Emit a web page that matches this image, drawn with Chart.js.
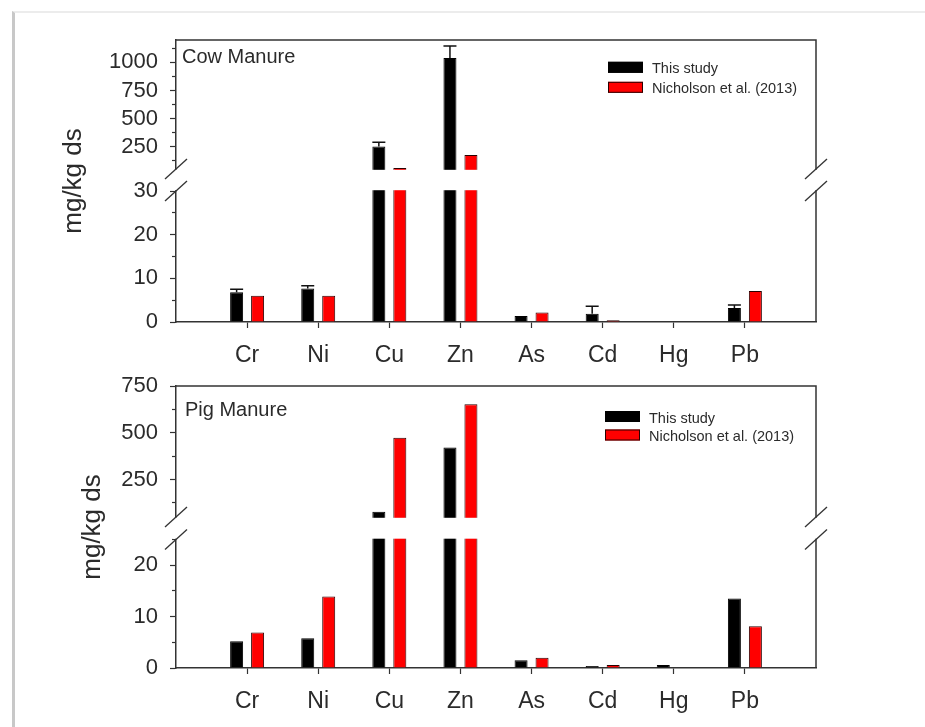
<!DOCTYPE html>
<html><head><meta charset="utf-8">
<script src="https://cdn.jsdelivr.net/npm/chart.js@4.4.1/dist/chart.umd.min.js"></script>
<style>
html,body{margin:0;padding:0;background:#fff;}
#wrap{position:relative;width:925px;height:727px;overflow:hidden;background:#fff;}
#frame{position:absolute;left:12px;top:11px;width:925px;height:730px;border-left:3px solid #c8c8c8;border-top:2px solid #ececec;}
canvas{position:absolute;left:0;}
#cowCanvas{top:0;}
#pigCanvas{top:340px;}
</style></head><body>
<div id="wrap"><div id="frame"></div>
<canvas id="cowCanvas" width="925" height="370"></canvas>
<canvas id="pigCanvas" width="925" height="387"></canvas>
</div>
<script>
// ---------------- data ----------------
const categories = ['Cr', 'Ni', 'Cu', 'Zn', 'As', 'Cd', 'Hg', 'Pb'];
const seriesNames = ['This study', 'Nicholson et al. (2013)'];

const cowThisStudy    = [6.8, 7.7, 250, 1040, 1.4, 1.9, 0, 3.2];
const cowThisStudyErr = [0.7, 0.6, 38, 106, 0, 1.7, 0, 0.7];
const cowNicholson    = [6.0, 6.0, 58, 175, 2.2, 0.4, 0, 7.1];

const pigThisStudy    = [5.2, 5.8, 78, 422, 1.5, 0.4, 0.6, 13.5];
const pigNicholson    = [6.9, 13.9, 474, 652, 2.0, 0.6, 0, 8.1];

const cowMajorTicks = [0, 10, 20, 30, 250, 500, 750, 1000];
const cowMinorTicks = [5, 15, 25, 125, 375, 625, 875, 1125];
const pigMajorTicks = [0, 10, 20, 250, 500, 750];
const pigMinorTicks = [5, 15, 25, 125, 375, 625];

const cowAxisRange = [0, 30, 50, 1200];   // min, break start, break end, max
const pigAxisRange = [0, 25, 50, 750];

const FONT = '"Liberation Sans", Arial, Helvetica, sans-serif';
Chart.defaults.font.family = FONT;

// ---------------- broken linear scale ----------------
const LinearScale = Chart.LinearScale || Chart.registry.getScale('linear');
class BrokenLinearScale extends LinearScale {
  _brokenDecimal(v) {
    const o = this.options;
    const lo = o.breakLower, hi = o.breakUpper, lf = o.lowerFraction, gf = o.gapFraction;
    const uf = 1 - lf - gf;
    const min = this.min, max = this.max;
    if (v <= lo) return (v - min) / (lo - min) * lf;
    if (v >= hi) return lf + gf + (v - hi) / (max - hi) * uf;
    return lf + (v - lo) / (hi - lo) * gf;
  }
  getPixelForValue(value) {
    if (value === null || value === undefined || isNaN(value)) return NaN;
    return this.getPixelForDecimal(this._brokenDecimal(+value));
  }
  getValueForPixel(pixel) {
    const d = this.getDecimalForPixel(pixel);
    const o = this.options;
    const lo = o.breakLower, hi = o.breakUpper, lf = o.lowerFraction, gf = o.gapFraction;
    const uf = 1 - lf - gf;
    if (d <= lf) return this.min + d / lf * (lo - this.min);
    if (d >= lf + gf) return hi + (d - lf - gf) / uf * (this.max - hi);
    return lo + (d - lf) / gf * (hi - lo);
  }
  _computeGridLineItems(chartArea) {
    const items = super._computeGridLineItems(chartArea);
    const minorLen = this.options.minorTickLength || 3;
    if (items && items.length === this.ticks.length) {
      items.forEach((it, i) => {
        if (this.ticks[i] && this.ticks[i].minor) it.tx1 = it.tx2 - minorLen;
      });
    }
    return items;
  }
}
BrokenLinearScale.id = 'brokenLinear';
BrokenLinearScale.defaults = {};
Chart.register(BrokenLinearScale);

// ---------------- decoration plugin (frame, break marks, legend, labels, error bars) ----------------
function decor(cfg) {
  return {
    id: 'decor_' + cfg.name,
    afterDatasetsDraw(chart) {
      if (!cfg.errors) return;
      const ctx = chart.ctx, a = chart.chartArea, y = chart.scales.y;
      const errs = [null, ...cfg.errors, null];
      const vals = chart.data.datasets[0].data;
      const meta = chart.getDatasetMeta(0);
      ctx.save();
      ctx.beginPath(); ctx.rect(a.left, a.top, a.right - a.left, a.bottom - a.top); ctx.clip();
      ctx.strokeStyle = '#111'; ctx.lineWidth = 1.5;
      meta.data.forEach((bar, i) => {
        const e = errs[i], v = vals[i];
        if (!e || v == null) return;
        const top = y.getPixelForValue(v + e);
        const half = bar.width / 2;
        ctx.beginPath();
        ctx.moveTo(bar.x, bar.y); ctx.lineTo(bar.x, top);
        ctx.moveTo(bar.x - half, top); ctx.lineTo(bar.x + half, top);
        ctx.stroke();
      });
      ctx.restore();
    },
    afterDraw(chart) {
      const ctx = chart.ctx, a = chart.chartArea, y = chart.scales.y;
      ctx.save();
      ctx.strokeStyle = '#333'; ctx.lineWidth = 1.5;
      ctx.beginPath();
      ctx.moveTo(a.left, a.top); ctx.lineTo(a.right, a.top); ctx.lineTo(a.right, a.bottom);
      ctx.stroke();
      // axis break gap
      const yLow = y.getPixelForValue(cfg.range[1]);
      const yUp = y.getPixelForValue(cfg.range[2]);
      ctx.fillStyle = '#fff';
      ctx.fillRect(a.left - 3, yUp + 0.8, a.right - a.left + 6, yLow - yUp - 1.6);
      ctx.lineWidth = 1.3; ctx.strokeStyle = '#333';
      [a.left, a.right].forEach(x => [yUp, yLow].forEach(yy => {
        ctx.beginPath(); ctx.moveTo(x - 11, yy + 10); ctx.lineTo(x + 11, yy - 10); ctx.stroke();
      }));
      // panel label
      ctx.fillStyle = '#2b2b2b';
      ctx.font = '20px ' + FONT;
      ctx.textAlign = 'left'; ctx.textBaseline = 'alphabetic';
      ctx.fillText(cfg.title, a.left + cfg.titleDx, a.top + cfg.titleDy);
      // legend
      ctx.font = '14.5px ' + FONT;
      chart.data.datasets.forEach((ds, i) => {
        const cy = a.top + cfg.legendY[i];
        const lx = a.right - cfg.legendDx;
        ctx.fillStyle = ds.backgroundColor;
        ctx.fillRect(lx, cy - 5.5, 35, 11);
        ctx.lineWidth = 1; ctx.strokeStyle = ds.borderColor;
        ctx.strokeRect(lx + 0.5, cy - 5, 34, 10);
        ctx.fillStyle = '#2b2b2b';
        ctx.fillText(ds.label, lx + 44, cy + 6);
      });
      ctx.restore();
    }
  };
}

// ---------------- chart factory ----------------
function makeChart(canvasId, cfg) {
  const labels = ['', ...categories, ''];
  const pad = arr => [null, ...arr, null];
  const tickObjs = [...cfg.major.map(v => ({value: v, minor: false})),
                    ...cfg.minor.map(v => ({value: v, minor: true}))]
                   .sort((p, q) => p.value - q.value);
  return new Chart(document.getElementById(canvasId), {
    type: 'bar',
    data: {
      labels: labels,
      datasets: [
        { label: seriesNames[0], data: pad(cfg.thisStudy), backgroundColor: '#000000', borderColor: '#000000', borderWidth: 1 },
        { label: seriesNames[1], data: pad(cfg.nicholson), backgroundColor: '#ff0000', borderColor: '#2a0000', borderWidth: 1 }
      ]
    },
    options: {
      responsive: false,
      animation: false,
      events: [],
      layout: { padding: { left: cfg.padLeft, right: 109, top: cfg.padTop, bottom: cfg.padBottom } },
      datasets: { bar: { categoryPercentage: 0.59, barPercentage: 0.62 } },
      plugins: { legend: { display: false }, tooltip: { enabled: false } },
      scales: {
        x: {
          type: 'category',
          offset: false,
          grid: {
            offset: false, drawOnChartArea: false, tickLength: 6, tickWidth: 1.2,
            tickColor: c => (c.index === 0 || c.index === labels.length - 1) ? 'rgba(0,0,0,0)' : '#333'
          },
          border: { color: '#333', width: 1.5 },
          ticks: { autoSkip: false, maxRotation: 0, minRotation: 0, padding: 14, font: { size: 23 }, color: '#2b2b2b' },
          afterFit: s => { s.height = 45; }
        },
        y: {
          type: 'brokenLinear',
          min: cfg.range[0], max: cfg.range[3],
          bounds: 'data',
          breakLower: cfg.range[1], breakUpper: cfg.range[2],
          lowerFraction: cfg.lowerFraction, gapFraction: cfg.gapFraction,
          minorTickLength: 3,
          afterBuildTicks: s => { s.ticks = tickObjs.map(t => ({ value: t.value, minor: t.minor })); },
          afterFit: s => { s.width = 176 - cfg.padLeft; },
          border: { color: '#333', width: 1.5 },
          grid: { drawOnChartArea: false, tickLength: 6, tickWidth: 1.2, tickColor: '#333' },
          ticks: {
            autoSkip: false, padding: 12, font: { size: 22 }, color: '#2b2b2b',
            callback: (v, i, t) => (t[i] && t[i].minor) ? '' : String(v)
          },
          title: { display: true, text: 'mg/kg ds', font: { size: 26 }, color: '#2b2b2b', padding: 0 }
        }
      }
    },
    plugins: [decor(cfg)]
  });
}

makeChart('cowCanvas', {
  name: 'cow', title: 'Cow Manure', titleDx: 6, titleDy: 23.3,
  thisStudy: cowThisStudy, nicholson: cowNicholson, errors: cowThisStudyErr,
  major: cowMajorTicks, minor: cowMinorTicks, range: cowAxisRange,
  lowerFraction: 0.4645, gapFraction: 0.078,
  padLeft: 58, padTop: 40, padBottom: 3,
  legendDx: 208, legendY: [27.3, 47.3]
});

makeChart('pigCanvas', {
  name: 'pig', title: 'Pig Manure', titleDx: 9, titleDy: 29.7,
  thisStudy: pigThisStudy, nicholson: pigNicholson, errors: null,
  major: pigMajorTicks, minor: pigMinorTicks, range: pigAxisRange,
  lowerFraction: 0.4557, gapFraction: 0.0798,
  padLeft: 77, padTop: 46, padBottom: 14,
  legendDx: 211, legendY: [30.5, 49]
});
</script>
</body></html>
